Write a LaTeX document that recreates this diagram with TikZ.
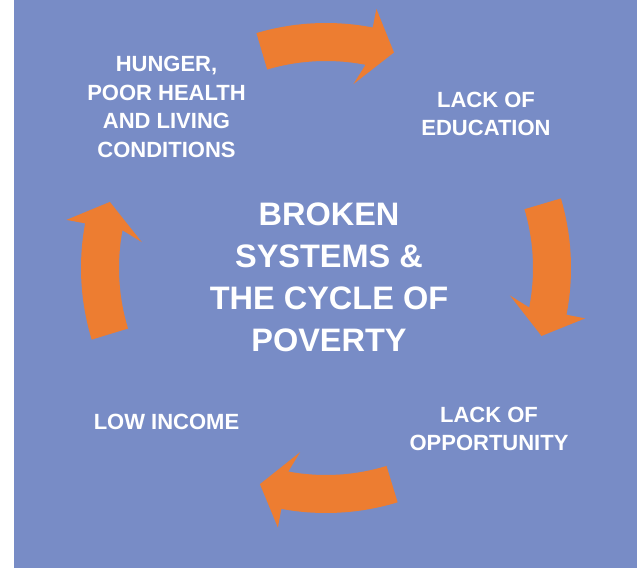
\documentclass[tikz,border=0pt]{standalone}
\usepackage{fontspec}
\setmainfont{Liberation Sans}
\usetikzlibrary{positioning}

\definecolor{povblue}{RGB}{120,140,198}
\definecolor{povorange}{RGB}{237,125,49}

\begin{document}
\begin{tikzpicture}[x=1pt,y=1pt,
        stage/.style={text=white,align=center,inner sep=0pt,
          font=\fontsize{22}{28.6}\selectfont\bfseries},
        title/.style={text=white,align=center,inner sep=0pt,
          font=\fontsize{32.5}{42}\selectfont\bfseries},
        cyclearrow/.style={fill=povorange,draw=none}]
      \useasboundingbox (0,0) rectangle (642,571);
      \fill[povblue] (14,3) rectangle (637,571);

      \node[title] (C) at (329,294) {BROKEN\\SYSTEMS \&\\THE CYCLE OF\\POVERTY};
      \node[stage] (H) at (166.5,464) {HUNGER,\\POOR HEALTH\\AND LIVING\\CONDITIONS};
      \node[stage] (E) at (486,457) {LACK OF\\EDUCATION};
      \node[stage] (O) at (489,142) {LACK OF\\OPPORTUNITY};
      \node[stage] (L) at (166.5,149) {LOW INCOME};

      % block arrows round the centre, clockwise
      \begin{scope}[shift={(326,303)}]
        \foreach \c in {89.5,-0.5,-90,-180}
          \fill[cyclearrow] (\c+17:245)
            arc[start angle=\c+17,end angle=\c-10.5,radius=245]
            -- (\c-10.5:264) -- (\c-17:226) -- (\c-8:186) -- (\c-10.5:207)
            arc[start angle=\c-10.5,end angle=\c+17,radius=207] -- cycle;
      \end{scope}
      \end{tikzpicture}
\end{document}
